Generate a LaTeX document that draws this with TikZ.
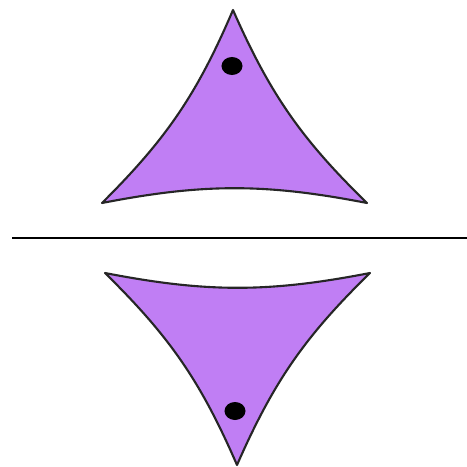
\documentclass[tikz,border=0pt]{standalone}
\usepackage{tikz}
\usetikzlibrary{positioning, shapes.geometric}
\definecolor{cuspviolet}{HTML}{C07EF4}

\begin{document}
\begin{tikzpicture}[
    x=0.01cm, y=-0.01cm,
    cusp/.style={draw=black!85, fill=cuspviolet, line width=0.6pt, line join=round},
    spot/.style={ellipse, fill=black, inner sep=0pt, minimum width=0.21cm, minimum height=0.18cm},
    axis/.style={draw=black, line width=0.6pt}
]
\useasboundingbox (0,0) rectangle (467,467);

% upper triangle
\coordinate (uptop) at (233,10);
\coordinate (upleft) at (102,203);
\coordinate (upright) at (367,203);
\draw[cusp] (uptop) to[bend left=11] (upleft) to[bend left=11] (upright) to[bend left=11] (uptop) -- cycle;
\node[spot] (updot) at (232,66) {};

% mirror line
\coordinate (lineleft) at (12,238);
\coordinate (lineright) at (467,238);
\draw[axis] (lineleft) -- (lineright);

% lower triangle
\coordinate (lowleft) at (105,273);
\coordinate (lowright) at (370,273);
\coordinate (lowbot) at (237,465);
\draw[cusp] (lowleft) to[bend right=11] (lowright) to[bend right=11] (lowbot) to[bend right=11] (lowleft) -- cycle;
\node[spot] (lowdot) at (235,411) {};

\end{tikzpicture}
\end{document}
